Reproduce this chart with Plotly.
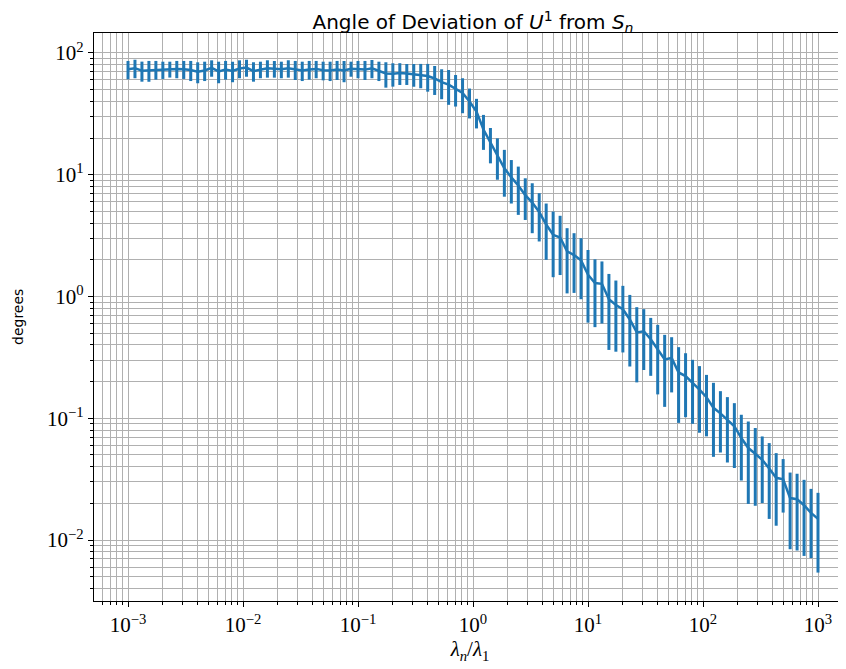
import numpy as np
import plotly.graph_objects as go

# x grid: 100 log-spaced ratios lambda_n / lambda_1 from 1e-3 to 1e3
ratio = np.logspace(-3, 3, 100)

mean_deg = [
    73.4, 75.0, 71.5, 72.0, 73.2, 73.0, 73.8, 74.0, 73.6, 72.4,
    70.1, 71.8, 75.4, 70.6, 73.2, 71.1, 74.5, 75.9, 71.0, 73.4,
    74.9, 74.3, 73.4, 74.9, 73.0, 71.8, 73.2, 74.0, 72.2, 71.8,
    73.0, 71.7, 74.3, 74.0, 73.0, 74.8, 71.8, 67.9, 67.6, 68.5,
    67.9, 67.0, 66.3, 64.7, 61.7, 57.6, 55.0, 51.1, 47.0, 40.0,
    33.0, 23.5, 18.3, 14.5, 11.3, 9.5, 8.17, 6.8, 5.91, 4.94,
    3.9, 3.21, 3.05, 2.35, 2.19, 1.98, 1.51, 1.29, 1.27, 0.948,
    0.852, 0.785, 0.648, 0.507, 0.518, 0.445, 0.371, 0.304, 0.313, 0.2376,
    0.222, 0.196, 0.172, 0.149, 0.1218, 0.1096, 0.0962, 0.0860, 0.0688, 0.0569,
    0.0511, 0.0455, 0.0387, 0.0324, 0.0315, 0.0221, 0.0216, 0.0193, 0.0167, 0.0149,
]

std_deg = [
    12.6, 13.0, 13.4, 14.0, 12.8, 11.8, 11.0, 12.0, 12.4, 13.6,
    13.7, 13.0, 11.6, 14.2, 12.8, 13.6, 12.5, 12.1, 12.9, 11.4,
    12.2, 11.6, 11.4, 12.2, 13.0, 13.0, 12.8, 12.0, 12.6, 13.0,
    13.0, 14.2, 10.5, 12.0, 13.0, 12.8, 13.0, 16.0, 14.7, 13.9,
    13.3, 14.2, 15.0, 16.6, 16.5, 15.9, 17.5, 14.8, 15.0, 11.0,
    9.0, 7.5, 5.9, 5.4, 4.7, 3.7, 3.49, 2.55, 2.6, 2.11,
    1.9, 1.77, 1.55, 1.29, 1.12, 1.03, 0.90, 0.73, 0.67, 0.584,
    0.50, 0.438, 0.382, 0.31, 0.269, 0.222, 0.214, 0.18, 0.15, 0.146,
    0.12, 0.106, 0.096, 0.078, 0.0736, 0.0573, 0.0529, 0.047, 0.038, 0.0371,
    0.032, 0.0254, 0.0238, 0.0193, 0.0147, 0.0137, 0.0134, 0.0119, 0.0096, 0.0095,
]

x_exps = [-3, -2, -1, 0, 1, 2, 3]
y_exps = [-2, -1, 0, 1, 2]

def minor_vals(lo, hi):
    vals = []
    for e in range(lo, hi + 1):
        for k in range(2, 10):
            vals.append(k * 10.0 ** e)
    return vals

def pow_label(e):
    return f"10<sup>{'−' if e < 0 else ''}{abs(e)}</sup>"

BLUE = "#1f77b4"
GRID = "#b0b0b0"
SERIF = "Liberation Serif, DejaVu Serif, serif"
SANS = "DejaVu Sans, sans-serif"
tick_font = dict(family=SERIF, size=21, color="black")

fig = go.Figure()
fig.add_trace(go.Scatter(
    x=ratio, y=mean_deg, mode="lines",
    line=dict(color=BLUE, width=2.5),
    error_y=dict(type="data", array=std_deg, visible=True,
                 thickness=3, width=0, color=BLUE),
    showlegend=False,
))

axis_common = dict(
    type="log", showline=True, mirror=True, linecolor="black", linewidth=1.3,
    ticks="outside", ticklen=5, tickwidth=1.1, tickcolor="black",
    showgrid=True, gridcolor=GRID, gridwidth=1.4, zeroline=False,
    tickfont=tick_font, automargin=False,
)

fig.update_xaxes(
    **axis_common,
    range=[-3.2957, 3.2435],
    tickmode="array",
    tickvals=[10.0 ** e for e in x_exps],
    ticktext=[pow_label(e) for e in x_exps],
    minor=dict(tickmode="array", tickvals=minor_vals(-4, 3), ticks="outside",
               ticklen=2.5, tickwidth=0.9, tickcolor="black",
               showgrid=True, gridcolor=GRID, gridwidth=1.4),
    title=dict(text="<i>λ</i><sub><i>n</i></sub>/<i>λ</i><sub>1</sub>",
               font=dict(family=SERIF, size=21, color="black"),
               standoff=4),
)
fig.update_yaxes(
    **axis_common,
    range=[-2.501, 2.164],
    tickmode="array",
    tickvals=[10.0 ** e for e in y_exps],
    ticktext=[pow_label(e) for e in y_exps],
    minor=dict(tickmode="array", tickvals=minor_vals(-3, 2), ticks="outside",
               ticklen=2.5, tickwidth=0.9, tickcolor="black",
               showgrid=True, gridcolor=GRID, gridwidth=1.4),
)

# page body keeps an 8px margin, so the figure is sized to end at the window edges
fig.update_layout(
    width=838, height=661,
    margin=dict(l=86, r=0, t=25, b=68, autoexpand=False),
    paper_bgcolor="white", plot_bgcolor="white",
    title=dict(text="Angle of Deviation of <i>U</i><sup>1</sup> from <i>S</i><sub><i>n</i></sub>",
               x=(465 / 838), xanchor="center", y=1 - 14 / 661, yanchor="middle",
               font=dict(family=SANS, size=20, color="black")),
    annotations=[dict(text="degrees", xref="paper", yref="paper",
                      x=(10 - 86) / 752, y=0.5, xanchor="center", yanchor="middle",
                      textangle=-90, showarrow=False,
                      font=dict(family=SANS, size=14, color="black"))],
)

fig.write_html("out.html")
